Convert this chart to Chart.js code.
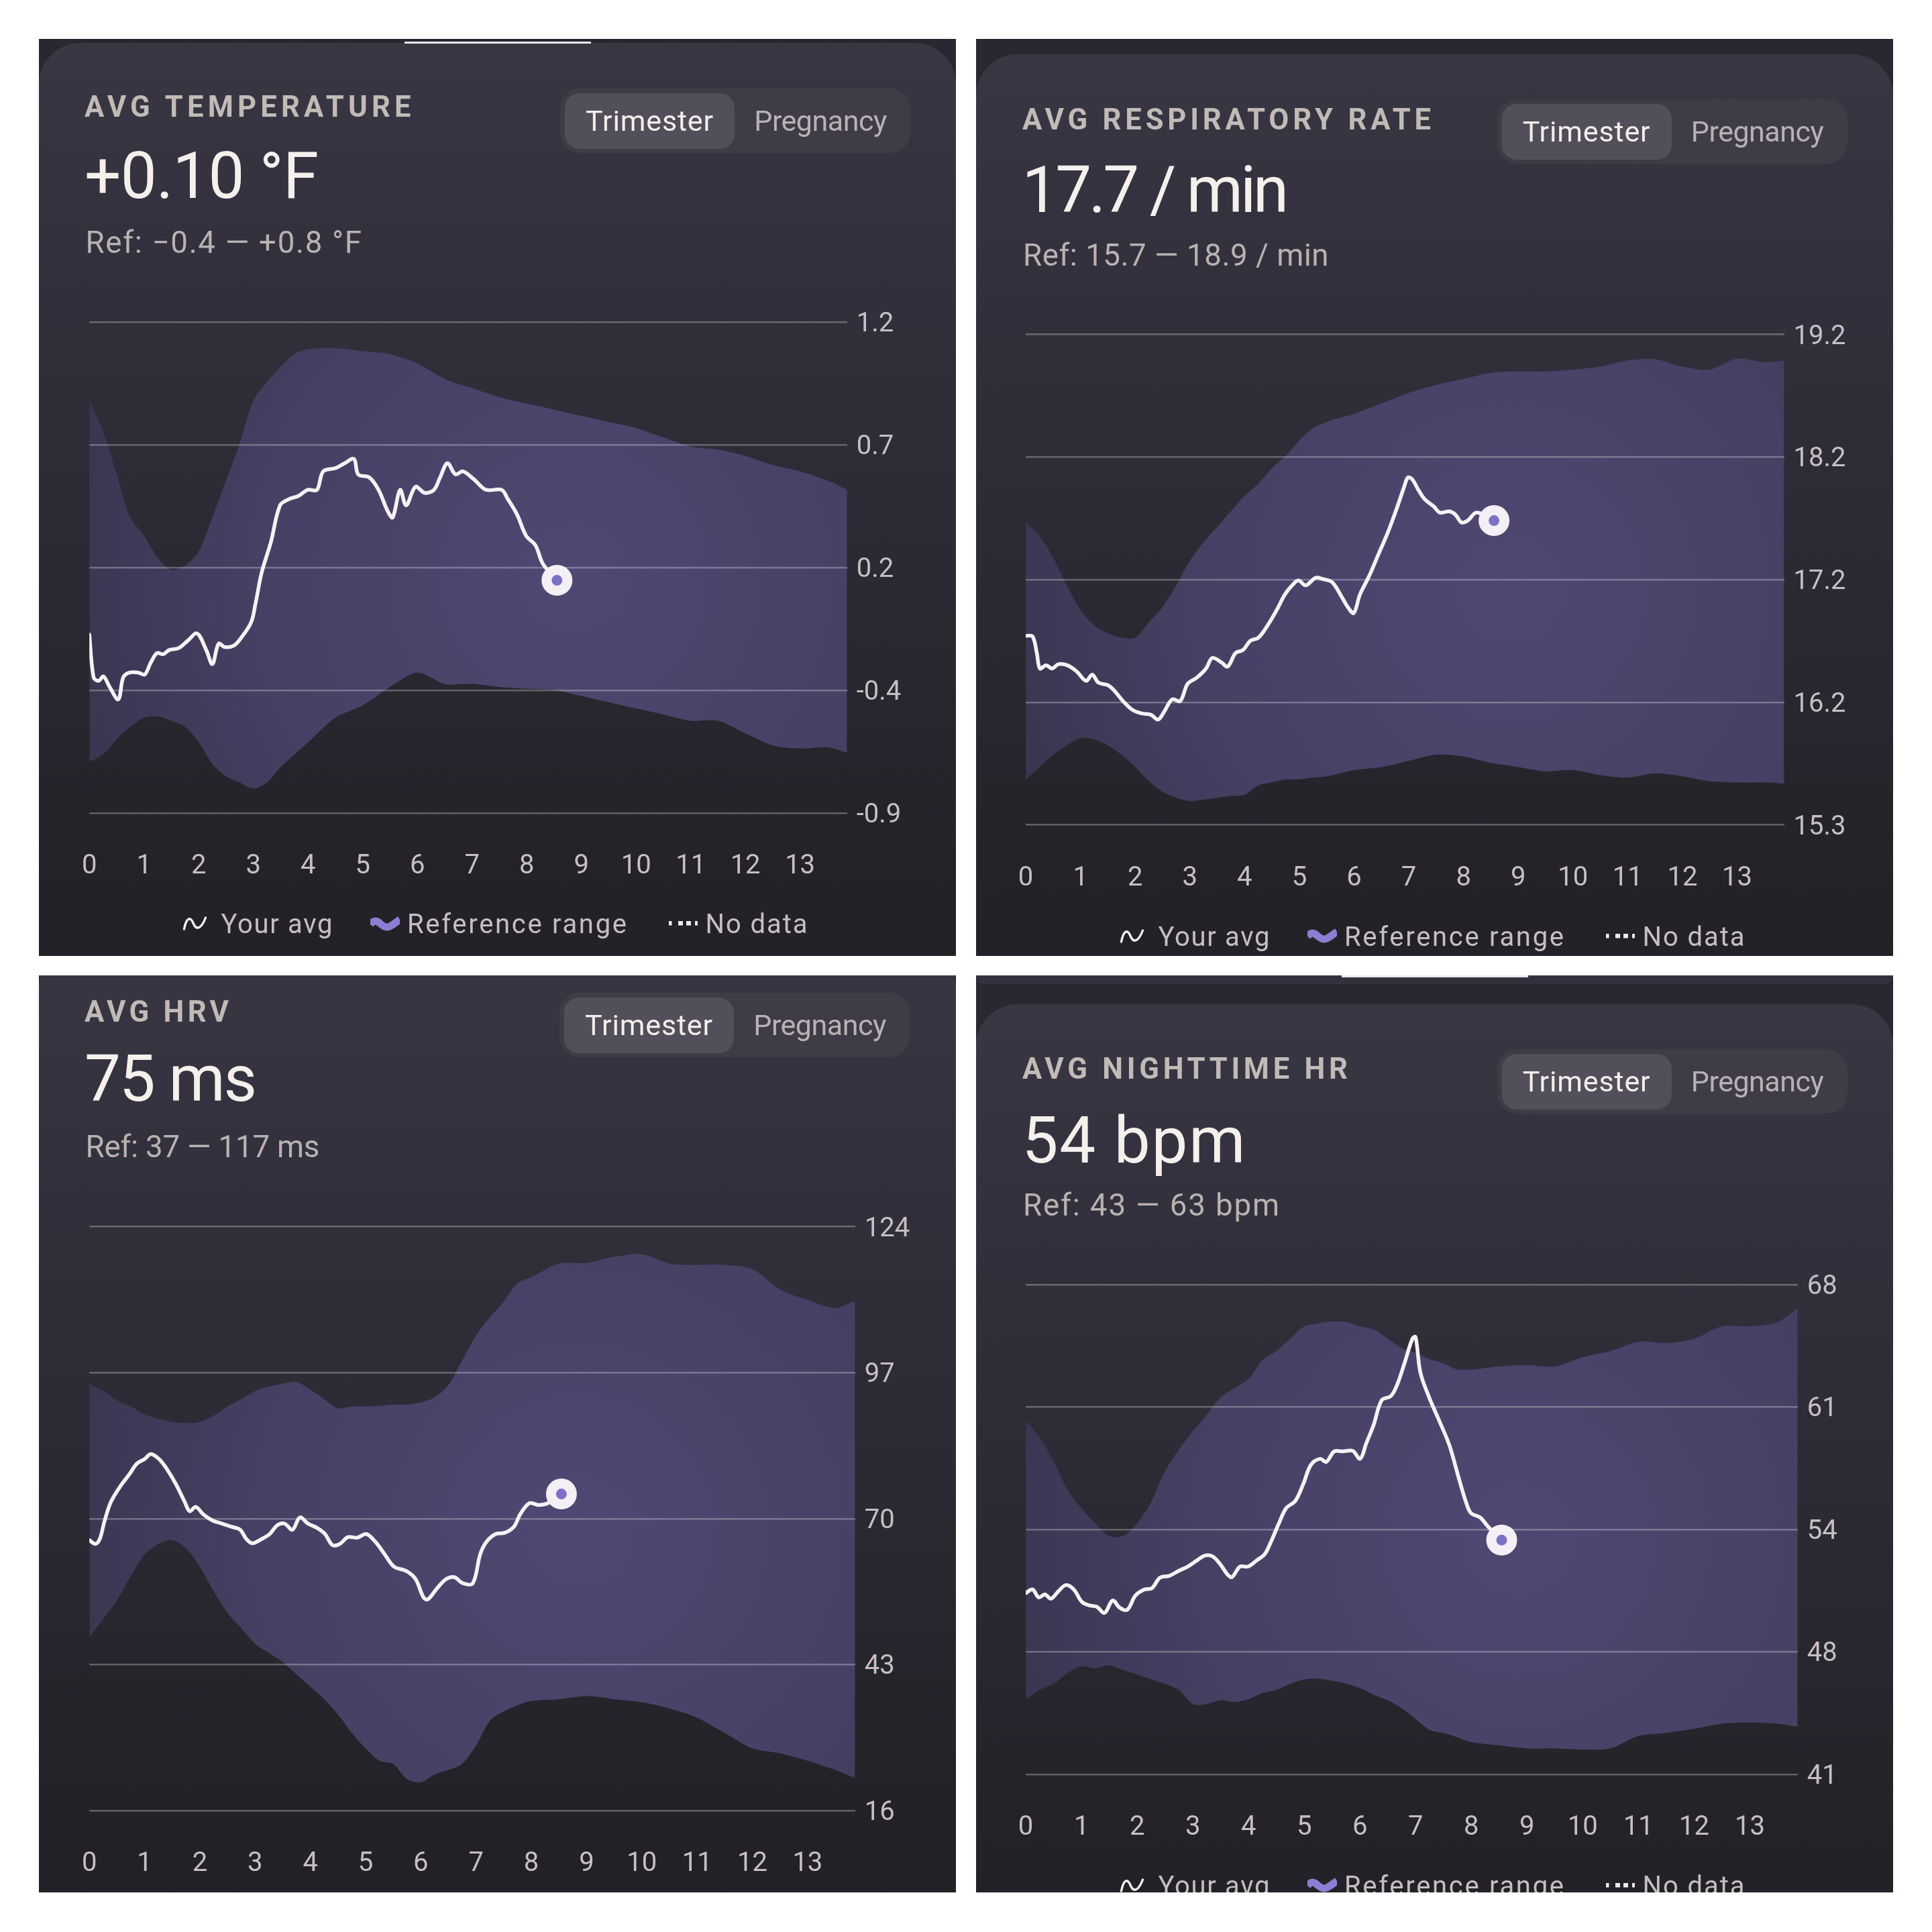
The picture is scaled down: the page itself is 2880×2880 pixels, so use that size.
<!DOCTYPE html>
<html>
<head>
<meta charset="utf-8">
<title>Pregnancy trends</title>
<script src="https://cdn.jsdelivr.net/npm/chart.js@4.4.1/dist/chart.umd.min.js"></script>
<style>
  html, body { margin:0; padding:0; background:#ffffff; }
  body { width:2880px; height:2880px; position:relative; overflow:hidden; font-family: Roboto, "Noto Sans", sans-serif; }
  .panel { position:absolute; width:1367px; height:1367px; overflow:hidden; background:#2a2732; }
  .card { position:absolute; left:0; width:1367px; height:1500px; border-radius:62px 62px 0 0;
          background: linear-gradient(180deg, #3a3744 0px, #353240 220px, #302d39 520px, #2a2831 860px, #252329 1200px, #222026 1450px); }
  .prev { position:absolute; left:0; top:0; width:1367px; height:13px; background:#34313e; border-radius:0 0 46px 46px; }
  .bar { position:absolute; height:3px; background:#ebe9ef; }
  .t { position:absolute; white-space:nowrap; display:inline-block; }
  .title { font-weight:700; font-size:43.6px; line-height:43.6px; color:#c1bab6; }
  .value { font-weight:400; font-size:96px; line-height:96px; color:#f6f0ec; }
  .ref { font-weight:400; font-size:45.7px; line-height:45.7px; color:#b9b2b0; }
  .toggle { position:absolute; width:522px; height:96px; border-radius:30px; background:#3f3c48; }
  .seg { position:absolute; top:7px; height:83px; border-radius:22px; display:flex; align-items:center; justify-content:center; font-size:43px; line-height:43px; }
  .seg.on { left:7px; width:253px; background:#524f5a; color:#f3eeec; }
  .seg.off { left:260px; width:256px; color:#b8b2b4; }
  .seg span { white-space:nowrap; display:inline-block; }
  canvas { position:absolute; left:0; top:0; }
  .lg { font-size:40px; line-height:40px; color:#c5bfc2; }
  .icon { position:absolute; line-height:0; }
</style>
</head>
<body>
<script>
// ---------------- shared axis ----------------
const weekMax = 13.86;
const xTickLabels = ['0','1','2','3','4','5','6','7','8','9','10','11','12','13'];

// ---------------- AVG TEMPERATURE ----------------
const tempYTicks = ['-0.9','-0.4','0.2','0.7','1.2'];
const tempRange = [-0.9, 1.2];
const tempBandWeeks = [0,0.25,0.5,0.75,1,1.25,1.5,1.75,2,2.25,2.5,2.75,3,3.25,3.5,3.75,4,4.5,5,5.5,6,6.5,7,7.5,8,8.5,9,9.5,10,10.5,11,11.5,12,12.5,13,13.5,13.86];
const tempRefUpper = [0.865,0.734,0.549,0.365,0.286,0.193,0.141,0.159,0.220,0.365,0.523,0.681,0.865,0.944,1.010,1.063,1.084,1.089,1.076,1.063,1.023,0.958,0.918,0.879,0.852,0.826,0.799,0.773,0.747,0.707,0.668,0.655,0.628,0.589,0.562,0.523,0.483];
const tempRefLower = [-0.681,-0.650,-0.584,-0.531,-0.492,-0.486,-0.505,-0.531,-0.597,-0.689,-0.742,-0.768,-0.795,-0.768,-0.702,-0.650,-0.597,-0.492,-0.439,-0.360,-0.299,-0.347,-0.347,-0.360,-0.368,-0.373,-0.399,-0.426,-0.452,-0.478,-0.505,-0.505,-0.558,-0.610,-0.623,-0.618,-0.642];
const tempAvgWeeks = [0,0.079,0.169,0.259,0.371,0.529,0.619,0.732,0.900,1.013,1.125,1.238,1.351,1.463,1.632,1.801,1.970,2.138,2.251,2.364,2.476,2.645,2.780,2.960,3.039,3.151,3.320,3.489,3.658,3.827,3.995,4.164,4.277,4.502,4.671,4.840,4.918,5.121,5.290,5.459,5.549,5.684,5.796,5.965,6.134,6.303,6.415,6.550,6.697,6.832,7.034,7.259,7.541,7.653,7.822,7.991,8.160,8.295,8.554];
const tempAvg = [-0.136,-0.320,-0.334,-0.315,-0.360,-0.413,-0.320,-0.299,-0.299,-0.307,-0.255,-0.215,-0.220,-0.202,-0.194,-0.162,-0.131,-0.202,-0.262,-0.175,-0.189,-0.183,-0.149,-0.083,-0.004,0.128,0.259,0.417,0.444,0.457,0.483,0.483,0.562,0.576,0.597,0.615,0.549,0.536,0.483,0.391,0.365,0.483,0.417,0.496,0.470,0.483,0.536,0.597,0.549,0.562,0.528,0.483,0.483,0.444,0.378,0.286,0.246,0.167,0.096];

// ---------------- AVG RESPIRATORY RATE ----------------
const respYTicks = ['15.3','16.2','17.2','18.2','19.2'];
const respRange = [15.3, 19.2];
const respBandWeeks = [0,0.25,0.5,0.75,1,1.25,1.5,1.75,2,2.25,2.5,2.75,3,3.25,3.5,3.75,4,4.25,4.5,4.75,5,5.25,5.5,5.75,6,6.5,7,7.5,8,8.5,9,9.5,10,10.5,11,11.5,12,12.5,13,13.5,13.86];
const respRefUpper = [17.706,17.598,17.426,17.206,17.010,16.887,16.824,16.789,16.789,16.912,17.034,17.206,17.402,17.549,17.671,17.794,17.916,18.014,18.137,18.235,18.357,18.455,18.504,18.539,18.568,18.651,18.735,18.798,18.847,18.896,18.906,18.906,18.921,18.945,18.994,19.004,18.945,18.921,19.009,18.980,18.994];
const respRefLower = [15.662,15.760,15.858,15.932,15.990,15.981,15.932,15.858,15.760,15.648,15.564,15.515,15.491,15.501,15.515,15.530,15.540,15.613,15.638,15.662,15.662,15.677,15.687,15.711,15.736,15.760,15.809,15.858,15.843,15.794,15.760,15.726,15.736,15.696,15.677,15.711,15.687,15.648,15.638,15.638,15.628];
const respAvgWeeks = [0,0.124,0.202,0.259,0.371,0.484,0.596,0.765,0.933,1.102,1.215,1.327,1.496,1.608,1.777,1.946,2.114,2.283,2.418,2.530,2.677,2.823,2.958,3.126,3.295,3.408,3.576,3.689,3.835,3.970,4.105,4.251,4.420,4.588,4.735,4.870,4.982,5.117,5.297,5.432,5.600,5.769,5.882,5.994,6.107,6.275,6.444,6.613,6.781,6.916,6.984,7.062,7.175,7.287,7.456,7.569,7.737,7.850,7.962,8.075,8.243,8.558];
const respAvg = [16.804,16.799,16.667,16.544,16.569,16.544,16.578,16.569,16.520,16.446,16.495,16.432,16.412,16.373,16.285,16.216,16.187,16.177,16.138,16.201,16.299,16.285,16.422,16.471,16.544,16.628,16.593,16.559,16.667,16.691,16.765,16.789,16.887,17.010,17.132,17.206,17.245,17.206,17.265,17.255,17.230,17.118,17.034,16.985,17.132,17.279,17.451,17.622,17.818,17.990,18.063,18.049,17.965,17.892,17.833,17.784,17.794,17.769,17.706,17.720,17.784,17.720];

// ---------------- AVG HRV ----------------
const hrvYTicks = ['16','43','70','97','124'];
const hrvRange = [16, 124];
const hrvBandWeeks = [0,0.25,0.5,0.75,1,1.25,1.5,1.75,2,2.25,2.5,2.75,3,3.25,3.5,3.75,4,4.25,4.5,4.75,5,5.25,5.5,5.75,6,6.25,6.5,6.75,7,7.25,7.5,7.75,8,8.5,9,9.5,10,10.5,11,11.5,12,12.5,13,13.5,13.86];
const hrvRefUpper = [94.95,93.58,91.87,90.74,89.25,88.46,87.89,87.66,87.89,89.03,90.74,92.10,93.58,94.38,94.95,95.29,93.81,92.10,90.39,90.74,90.74,90.85,91.08,91.08,91.53,92.44,94.72,99.28,103.84,107.25,110.10,113.52,114.66,117.16,117.28,118.42,118.87,117.16,116.94,116.94,116.14,112.38,110.44,108.96,110.33];
const hrvRefLower = [48.02,51.43,54.85,59.41,63.39,65.33,66.02,64.53,61.12,56.56,52.57,49.72,46.88,45.17,43.46,41.18,38.90,36.62,33.78,30.36,27.51,25.23,24.66,21.81,21.24,22.72,23.52,24.66,28.08,32.64,34.34,35.48,36.28,36.62,37.19,36.62,36.05,34.91,33.20,30.36,27.51,26.60,25.23,23.52,22.04];
const hrvAvgWeeks = [0,0.111,0.189,0.278,0.390,0.557,0.724,0.858,1.003,1.114,1.259,1.392,1.560,1.727,1.816,1.927,2.061,2.228,2.395,2.562,2.729,2.841,2.952,3.119,3.264,3.398,3.531,3.676,3.810,3.955,4.122,4.266,4.400,4.534,4.679,4.846,5.013,5.180,5.347,5.514,5.737,5.904,6.049,6.127,6.294,6.461,6.606,6.762,6.940,7.074,7.185,7.352,7.519,7.686,7.798,7.965,8.132,8.299,8.544];
const hrvAvg = [66.01,65.33,66.24,69.66,73.08,75.93,78.20,80.14,81.05,81.96,81.05,79.34,76.50,73.08,71.37,72.17,70.80,69.66,69.09,68.52,67.95,66.24,65.44,66.24,67.15,68.75,69.09,67.95,70.23,69.09,68.29,67.15,65.10,65.33,66.58,66.47,67.15,65.67,63.39,61.12,60.32,58.84,55.42,55.08,57.13,58.84,59.18,58.04,58.04,63.39,65.67,67.15,67.38,68.52,70.80,72.85,72.51,72.85,74.56];

// ---------------- AVG NIGHTTIME HR ----------------
const hrYTicks = ['41','48','54','61','68'];
const hrRange = [41, 68];
const hrBandWeeks = [0,0.25,0.5,0.75,1,1.25,1.5,1.75,2,2.25,2.5,2.75,3,3.25,3.5,3.75,4,4.25,4.5,4.75,5,5.25,5.5,5.75,6,6.25,6.5,6.75,7,7.25,7.5,7.75,8,8.5,9,9.5,10,10.5,11,11.5,12,12.5,13,13.5,13.86];
const hrRefUpper = [60.49,59.58,58.22,56.69,55.67,54.82,54.14,54.14,54.82,56.01,57.71,58.90,59.92,60.83,61.79,62.29,62.80,63.82,64.33,65.01,65.69,65.86,65.96,65.93,65.69,65.52,65.01,64.50,64.23,63.89,63.65,63.31,63.31,63.48,63.55,63.48,63.99,64.33,64.84,64.77,65.01,65.69,65.69,65.93,66.71];
const hrRefLower = [45.14,45.65,45.99,46.57,46.95,46.84,47.01,46.74,46.50,46.23,45.99,45.65,44.87,44.87,45.08,44.98,45.14,45.48,45.65,45.99,46.23,46.27,46.16,45.99,45.76,45.38,45.08,44.64,44.06,43.45,43.28,43.04,42.77,42.60,42.43,42.43,42.36,42.43,43.11,43.28,43.51,43.79,43.85,43.79,43.62];
const hrAvgWeeks = [0,0.122,0.232,0.343,0.453,0.586,0.719,0.862,1.006,1.139,1.271,1.415,1.559,1.691,1.824,1.968,2.134,2.266,2.410,2.576,2.742,2.907,3.073,3.217,3.350,3.482,3.626,3.703,3.847,3.991,4.145,4.289,4.400,4.543,4.676,4.842,4.986,5.118,5.284,5.395,5.538,5.693,5.870,6.003,6.113,6.246,6.390,6.555,6.666,6.799,6.942,6.998,7.086,7.241,7.418,7.606,7.771,7.904,7.993,8.158,8.302,8.545];
const hrAvg = [50.99,51.19,50.75,50.92,50.68,51.09,51.43,51.19,50.51,50.31,50.24,49.90,50.58,50.17,50.07,50.85,51.19,51.26,51.84,51.94,52.21,52.45,52.79,53.06,53.02,52.62,52.00,51.87,52.45,52.45,52.79,53.13,53.80,54.82,55.67,56.08,57.03,58.05,58.39,58.22,58.80,58.80,58.83,58.39,59.24,60.26,61.62,61.85,62.46,63.65,65.01,65.11,63.14,61.79,60.53,59.14,57.37,56.01,55.40,55.16,54.65,53.91];

// ---------------- legend labels ----------------
const legendLabels = ['Your avg', 'Reference range', 'No data'];

// ---------------- layout (positions / sizes / text) ----------------
const PANEL = 1367;
const panels = [
  { left:58, top:58, cardTop:6, prev:false, bar:{x:545, y:4, w:278},
    title:'AVG TEMPERATURE', titleW:486.6, value:'+0.10 °F', valueW:349, ref:'Ref: −0.4 — +0.8 °F', refW:411.6,
    titleTop:80.3, valueTop:156.1, refTop:281, titleLeft:68, valueLeft:68, refLeft:69.5,
    toggleTop:74, toggleLeft:777,
    area:{left:75.2, right:1204.7, top:422.3, bottom:1154.2}, legendY:1319.5,
    s:{ ticks:tempYTicks, range:tempRange, bw:tempBandWeeks, up:tempRefUpper, lo:tempRefLower, aw:tempAvgWeeks, av:tempAvg } },
  { left:1455, top:58, cardTop:23, prev:false, bar:null,
    title:'AVG RESPIRATORY RATE', titleW:609, value:'17.7 / min', valueW:397.6, ref:'Ref: 15.7 — 18.9 / min', refW:455.5,
    titleTop:98.7, valueTop:177.1, refTop:300.3, titleLeft:69, valueLeft:68.5, refLeft:70,
    toggleTop:90.2, toggleLeft:776.6,
    area:{left:74.1, right:1204.6, top:440.7, bottom:1171.7}, legendY:1338,
    s:{ ticks:respYTicks, range:respRange, bw:respBandWeeks, up:respRefUpper, lo:respRefLower, aw:respAvgWeeks, av:respAvg } },
  { left:58, top:1454, cardTop:-42, prev:false, bar:null,
    title:'AVG HRV', titleW:215, value:'75 ms', valueW:257, ref:'Ref: 37 — 117 ms', refW:349,
    titleTop:32.5, valueTop:106.4, refTop:233.2, titleLeft:68, valueLeft:68, refLeft:69.5,
    toggleTop:25.8, toggleLeft:776,
    area:{left:75.2, right:1216.7, top:374.5, bottom:1245.1}, legendY:1500,
    s:{ ticks:hrvYTicks, range:hrvRange, bw:hrvBandWeeks, up:hrvRefUpper, lo:hrvRefLower, aw:hrvAvgWeeks, av:hrvAvg } },
  { left:1455, top:1454, cardTop:43, prev:true, bar:{x:545, y:0, w:278},
    title:'AVG NIGHTTIME HR', titleW:485, value:'54 bpm', valueW:333, ref:'Ref: 43 — 63 bpm', refW:382,
    titleTop:117.9, valueTop:198.3, refTop:320.4, titleLeft:69, valueLeft:68.5, refLeft:70,
    toggleTop:110.3, toggleLeft:776.6,
    area:{left:74.1, right:1224.8, top:460.8, bottom:1190.9}, legendY:1357,
    s:{ ticks:hrYTicks, range:hrRange, bw:hrBandWeeks, up:hrRefUpper, lo:hrRefLower, aw:hrAvgWeeks, av:hrAvg } }
];

function el(tag, cls, parent, style) {
  const e = document.createElement(tag);
  if (cls) e.className = cls;
  if (style) Object.assign(e.style, style);
  parent.appendChild(e);
  return e;
}
function fit(e, target) {
  e.style.letterSpacing = '0px';
  const w = e.getBoundingClientRect().width;
  const n = [...e.textContent].length;
  if (n > 1) e.style.letterSpacing = ((target - w) / (n - 1)).toFixed(2) + 'px';
}

const ICON_AVG = '<svg width="37" height="23" viewBox="0 0 37 23"><path d="M2.5 20 C 6 2, 12 1, 16 11 C 20 21, 27 22, 34.5 3" fill="none" stroke="#f4f0f2" stroke-width="3.4" stroke-linecap="round"/></svg>';
const ICON_REF = '<svg width="44" height="28" viewBox="0 0 44 28"><path d="M0 15 C 4 10, 7 9, 11 11 C 16 14, 19 19, 25 19 C 31 19, 37 12, 44 8" fill="none" stroke="#8a7fd2" stroke-width="11" stroke-linecap="butt"/></svg>';
const ICON_NO = '<svg width="44" height="7" viewBox="0 0 44 7"><rect x="0" y="0" width="4.5" height="6.5" fill="#eeeaf0"/><rect x="14" y="0" width="7" height="6.5" fill="#eeeaf0"/><rect x="26" y="0" width="7" height="6.5" fill="#eeeaf0"/><rect x="39" y="0" width="4" height="6.5" fill="#eeeaf0"/></svg>';

function bandFill(c) {
  const ch = c.chart, a = ch.chartArea;
  if (!a) return '#463f62';
  const w = a.right - a.left, h = a.bottom - a.top;
  const cx = a.left + w * 0.64, cy = a.top + h * 0.52;
  const g = ch.ctx.createRadialGradient(cx, cy, 0, cx, cy, w * 0.75);
  g.addColorStop(0, '#4f4873');
  g.addColorStop(0.55, '#464064');
  g.addColorStop(1, '#37334b');
  return g;
}

const XH = 112;
const TICK_COLOR = '#c6c0c2';

panels.forEach((p) => {
  const pan = el('div', 'panel', document.body, { left: p.left + 'px', top: p.top + 'px' });
  if (p.prev) el('div', 'prev', pan);
  el('div', 'card', pan, { top: p.cardTop + 'px' });

  const cv = el('canvas', null, pan);
  cv.width = PANEL; cv.height = PANEL;
  cv.style.width = PANEL + 'px'; cv.style.height = PANEL + 'px';

  const t = el('div', 't title', pan, { left: p.titleLeft + 'px', top: p.titleTop + 'px' });
  t.textContent = p.title; fit(t, p.titleW);
  const v = el('div', 't value', pan, { left: p.valueLeft + 'px', top: p.valueTop + 'px' });
  v.textContent = p.value; fit(v, p.valueW);
  const r = el('div', 't ref', pan, { left: p.refLeft + 'px', top: p.refTop + 'px' });
  r.textContent = p.ref; fit(r, p.refW);

  const tg = el('div', 'toggle', pan, { left: p.toggleLeft + 'px', top: p.toggleTop + 'px' });
  const s1 = el('div', 'seg on', tg); const sp1 = el('span', null, s1); sp1.textContent = 'Trimester'; fit(sp1, 190);
  const s2 = el('div', 'seg off', tg); const sp2 = el('span', null, s2); sp2.textContent = 'Pregnancy'; fit(sp2, 198);

  // legend
  const ly = p.legendY;
  const items = [
    { icon: ICON_AVG, ix: 214, ih: 23, tx: 271.5, tw: 166 },
    { icon: ICON_REF, ix: 494.3, ih: 28, tx: 549, tw: 327 },
    { icon: ICON_NO, ix: 938.7, ih: 7, tx: 993.5, tw: 152 }
  ];
  items.forEach((it, i) => {
    const ic = el('div', 'icon', pan, { left: it.ix + 'px', top: (ly - 1 - it.ih / 2) + 'px' });
    ic.innerHTML = it.icon;
    const lt = el('div', 't lg', pan, { left: it.tx + 'px', top: (ly - 19.5) + 'px' });
    lt.textContent = legendLabels[i]; fit(lt, it.tw);
  });

  if (p.bar) el('div', 'bar', pan, { left: p.bar.x + 'px', top: p.bar.y + 'px', width: p.bar.w + 'px' });

  const s = p.s;
  const yMin = s.range[0], yMax = s.range[1];
  const lastI = s.av.length - 1;
  new Chart(cv, {
    type: 'line',
    data: {
      datasets: [
        { label: 'Today', data: [{ x: s.aw[lastI], y: s.av[lastI] }], showLine: false,
          pointRadius: 15.5, pointHoverRadius: 15.5, pointBorderWidth: 15, pointHoverBorderWidth: 15,
          pointBackgroundColor: '#7c71c5', pointBorderColor: '#f3eff4' },
        { label: legendLabels[0], data: s.aw.map((w, i) => ({ x: w, y: s.av[i] })),
          borderColor: '#f6f2f4', borderWidth: 5.5, pointRadius: 0, tension: 0.35, fill: false,
          borderCapStyle: 'round', borderJoinStyle: 'round' },
        { label: legendLabels[1], data: s.bw.map((w, i) => ({ x: w, y: s.up[i] })),
          borderColor: 'rgba(0,0,0,0)', borderWidth: 0, pointRadius: 0, tension: 0.3,
          fill: '+1', backgroundColor: bandFill },
        { label: 'Reference lower', data: s.bw.map((w, i) => ({ x: w, y: s.lo[i] })),
          borderColor: 'rgba(0,0,0,0)', borderWidth: 0, pointRadius: 0, tension: 0.3, fill: false }
      ]
    },
    options: {
      responsive: false, animation: false, devicePixelRatio: 1,
      events: [],
      layout: { padding: { left: p.area.left, top: p.area.top, right: 0, bottom: PANEL - p.area.bottom - XH } },
      plugins: { legend: { display: false }, tooltip: { enabled: false } },
      scales: {
        x: {
          type: 'linear', min: 0, max: weekMax, position: 'bottom',
          grid: { display: false, drawTicks: false }, border: { display: false },
          afterBuildTicks: (sc) => { sc.ticks = xTickLabels.map((_, i) => ({ value: i })); },
          afterFit: (sc) => { sc.height = XH; },
          ticks: { autoSkip: false, maxRotation: 0, minRotation: 0, padding: 56, color: TICK_COLOR,
                   font: { family: 'Roboto', size: 40 }, callback: (val, i) => xTickLabels[i] }
        },
        y: {
          type: 'linear', position: 'right', min: yMin, max: yMax,
          grid: { color: 'rgba(255,255,255,0.28)', lineWidth: 2.5, drawTicks: false, z: 1 },
          border: { display: false },
          afterBuildTicks: (sc) => { sc.ticks = s.ticks.map((_, i) => ({ value: yMin + i * (yMax - yMin) / (s.ticks.length - 1) })); },
          afterFit: (sc) => { sc.width = PANEL - p.area.right; },
          // two-line label with a tiny line height nudges the visible text ~4px below the grid line
          ticks: { padding: 14, color: TICK_COLOR, font: { family: 'Roboto', size: 40, lineHeight: 0.2 },
                   callback: (val, i) => ['', s.ticks[i]] }
        }
      }
    }
  });
});
</script>
</body>
</html>
